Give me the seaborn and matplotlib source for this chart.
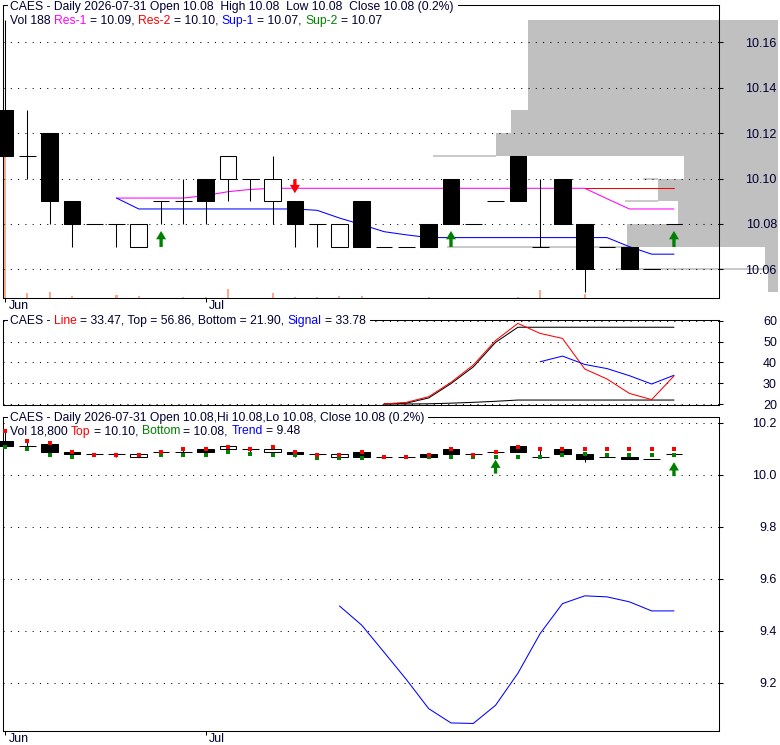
import numpy as np
import matplotlib
matplotlib.use("Agg")
import matplotlib.pyplot as plt
import matplotlib.transforms as mtransforms
from matplotlib.patches import Rectangle
import seaborn as sns

# ---------------- data ----------------
opens = [10.13, 10.11, 10.12, 10.09, 10.08, 10.08, 10.07, 10.09, 10.09, 10.10,
         10.10, 10.10, 10.09, 10.09, 10.08, 10.07, 10.09, 10.07, 10.07, 10.08,
         10.10, 10.08, 10.09, 10.11, 10.07, 10.10, 10.08, 10.07, 10.07, 10.06, 10.08]
highs = [10.17, 10.13, 10.12, 10.09, 10.08, 10.08, 10.08, 10.09, 10.10, 10.10,
         10.11, 10.10, 10.11, 10.09, 10.08, 10.08, 10.09, 10.07, 10.07, 10.08,
         10.10, 10.08, 10.09, 10.11, 10.10, 10.10, 10.08, 10.07, 10.07, 10.06, 10.08]
lows = [10.11, 10.10, 10.08, 10.07, 10.08, 10.07, 10.07, 10.08, 10.08, 10.08,
        10.09, 10.09, 10.08, 10.07, 10.07, 10.07, 10.07, 10.07, 10.07, 10.07,
        10.08, 10.08, 10.09, 10.09, 10.07, 10.08, 10.05, 10.07, 10.06, 10.06, 10.08]
closes = [10.11, 10.11, 10.09, 10.08, 10.08, 10.08, 10.08, 10.09, 10.09, 10.09,
          10.11, 10.10, 10.10, 10.08, 10.08, 10.08, 10.07, 10.07, 10.07, 10.07,
          10.08, 10.08, 10.09, 10.09, 10.07, 10.08, 10.06, 10.07, 10.06, 10.06, 10.08]
# volume in hundreds of shares
volume = [70500, 2500, 3000, 1000, 150, 1500, 1000, 200, 500, 500,
          4500, 200, 2500, 500, 500, 1000, 1000, 150, 200, 750,
          250, 150, 200, 300, 4000, 200, 2000, 150, 200, 150, 188]

month_idx = [0, 9]
month_lbl = ["Jun", "Jul"]

# support / resistance lines (top panel)
res1_start = 5
res1 = [10.0914, 10.0914, 10.0914, 10.0914, 10.0925, 10.0942, 10.0952, 10.0957,
        10.0957, 10.0957, 10.0957, 10.0957, 10.0957, 10.0957, 10.0957, 10.0957,
        10.0957, 10.0957, 10.0957, 10.0957, 10.0957, 10.0957, 10.0911, 10.0866,
        10.0866, 10.0866]
sup1_start = 5
sup1 = [10.0914, 10.0866, 10.0866, 10.0866, 10.0866, 10.0866, 10.0866, 10.0866,
        10.0866, 10.0860, 10.0826, 10.0797, 10.0766, 10.0752, 10.0740, 10.0740,
        10.0740, 10.0740, 10.0740, 10.0740, 10.0740, 10.0740, 10.0740, 10.0700,
        10.0667, 10.0667]
res2_start = 26
res2 = [10.0957, 10.0957, 10.0957, 10.0957, 10.0957]

# price-volume shading on the right (grey from band_end to the right edge)
band_lo = [10.16, 10.15, 10.14, 10.13, 10.12, 10.11, 10.10, 10.09, 10.08, 10.07, 10.06, 10.05]
band_end = [23.45, 23.45, 23.45, 23.45, 22.7, 22.0, 30.45, 29.3, 30.2, 27.9, 34.1, 34.2]
band_right = 34.66
shelf_y = [10.11, 10.10, 10.09, 10.07, 10.06]
shelf_x0 = [19.2, 28.6, 27.8, 19.8, 27.4]
shelf_x1 = [22.0, 29.3, 29.3, 27.9, 34.2]

up_top = [7, 20, 30]
down_top = [13]
up_bottom = [22, 30]

# oscillator (middle panel)
osc_start = 17
osc_line = [20.0, 20.8, 23.5, 30.4, 38.7, 50.5, 58.7, 53.9, 51.5, 36.8, 32.0, 25.1, 22.1, 33.47]
osc_top = [20.0, 20.4, 22.9, 29.8, 37.8, 49.6, 56.86, 56.86, 56.86, 56.86, 56.86, 56.86, 56.86, 56.86]
osc_bottom = [20.0, 20.0, 20.1, 20.4, 20.8, 21.3, 21.9, 21.9, 21.9, 21.9, 21.9, 21.9, 21.9, 21.9]
sig_start = 24
osc_signal = [40.3, 43.0, 39.0, 37.0, 33.6, 29.6, 33.78]

# bottom panel markers and trend
mark_top = [10.168, 10.131, 10.122, 10.088, 10.076, 10.076, 10.078, 10.088, 10.100, 10.100,
            10.109, 10.100, 10.109, 10.088, 10.076, 10.078, 10.088, 10.068, 10.068, 10.078,
            10.101, 10.076, 10.088, 10.109, 10.100, 10.100, 10.100, 10.100, 10.100, 10.100, 10.100]
mark_bottom = [10.109, 10.100, 10.076, 10.068, 10.076, 10.076, 10.076, 10.076, 10.076, 10.076,
               10.088, 10.080, 10.076, 10.076, 10.065, 10.065, 10.065, 10.068, 10.068, 10.068,
               10.068, 10.068, 10.068, 10.068, 10.068, 10.076, 10.080, 10.077, 10.077, 10.077, 10.077]
trend_start = 15
trend = [9.496, 9.422, 9.318, 9.213, 9.101, 9.046, 9.044, 9.114, 9.237, 9.39,
         9.505, 9.535, 9.531, 9.512, 9.477, 9.477]

# ---------------- style ----------------
sns.set_theme(style="white")
plt.rcParams["font.family"] = ["Liberation Sans", "DejaVu Sans"]
plt.rcParams["lines.scale_dashes"] = False

TXT = "#000033"
FS = 8.7
LW = 0.75
DPI = 100
W, H = 780, 745

fig = plt.figure(figsize=(W / DPI, H / DPI), dpi=DPI)
fig.patch.set_facecolor("white")
renderer = fig.canvas.get_renderer()

def px_axes(left, top, right, bottom):
    ax = fig.add_axes([left / W, 1 - bottom / H, (right - left) / W, (bottom - top) / H])
    ax.h_px = bottom - top
    return ax

ax_top = px_axes(3, 5, 719, 298)
ax_mid = px_axes(3, 320, 719, 405)
ax_bot = px_axes(3, 417, 719, 731)

x = np.arange(len(opens))
XLIM = (-0.09, 32.02)


def text_width(s):
    if not s:
        return 0.0
    t = fig.text(0, 0, s + "|", fontsize=FS)
    u = fig.text(0, 0, "|", fontsize=FS)
    w = t.get_window_extent(renderer).width - u.get_window_extent(renderer).width
    t.remove()
    u.remove()
    return w


def header(ax, dy, parts, bg=False):
    full = "".join(p for p, _ in parts)
    x0 = 7 / 716
    base = ax.transAxes + mtransforms.ScaledTranslation(0, -dy / DPI, fig.dpi_scale_trans)
    if bg:
        wfull = text_width(full)
        ax.add_patch(Rectangle((x0 - 2 / 716, 1 - (dy + 7) / ax.h_px), (wfull + 6) / 716,
                               14 / ax.h_px, transform=ax.transAxes, facecolor="white",
                               edgecolor="none", zorder=6, clip_on=False))
    pos = 0
    for seg, col in parts:
        lead = len(seg) - len(seg.lstrip(" "))
        dx = text_width(full[:pos + lead])
        tr = base + mtransforms.ScaledTranslation(dx / DPI, 0, fig.dpi_scale_trans)
        ax.text(x0, 1, seg.strip(" "), transform=tr, color=col, fontsize=FS,
                va="center", ha="left", zorder=7, clip_on=False)
        pos += len(seg)


def style_axes(ax, yticks, fmt, ylim, dates=True):
    ax.set_xlim(*XLIM)
    ax.set_ylim(*ylim)
    for s in ax.spines.values():
        s.set_color("black")
        s.set_linewidth(LW)
        s.set_visible(True)
    ax.set_axisbelow("line")
    ax.yaxis.tick_right()
    ax.set_yticks(yticks, [fmt.format(v) for v in yticks])
    ax.grid(axis="y", color="black", lw=LW, linestyle=(0, (0.75, 4.5)))
    ax.grid(axis="x", visible=False)
    ax.tick_params(axis="y", left=False, right=True, labelleft=False, labelright=True,
                   direction="out", length=3, width=LW, pad=38.7, labelsize=9, labelcolor=TXT,
                   color="black")
    plt.setp(ax.get_yticklabels(), ha="right")
    if dates:
        ax.set_xticks(month_idx, month_lbl)
        ax.tick_params(axis="x", bottom=True, top=False, direction="out", length=3, width=LW,
                       pad=-1.6, labelsize=9, labelcolor=TXT, color="black")
        shift = mtransforms.ScaledTranslation(3.5 / DPI, 0, fig.dpi_scale_trans)
        for lab in ax.get_xticklabels():
            lab.set_ha("left")
            lab.set_transform(lab.get_transform() + shift)
    else:
        ax.set_xticks([])
    ax.set_xlabel("")
    ax.set_ylabel("")


def candles(ax):
    o, h, l, c = map(np.asarray, (opens, highs, lows, closes))
    ax.vlines(x, l, h, color="black", lw=LW, zorder=3, clip_on=False)
    lo, hi = np.minimum(o, c), np.maximum(o, c)
    flat = np.isclose(o, c)
    down = (c < o) & ~flat
    up = (c > o) & ~flat
    ax.bar(x[down], (hi - lo)[down], bottom=lo[down], width=0.75, color="black",
           edgecolor="black", lw=LW, zorder=4, clip_on=False)
    ax.bar(x[up], (hi - lo)[up], bottom=lo[up], width=0.75, color="white",
           edgecolor="black", lw=LW, zorder=4, clip_on=False)
    ax.hlines(o[flat], x[flat] - 0.375, x[flat] + 0.375, color="black", lw=LW, zorder=4)


def arrow(ax, xi, y, up, color, gap_px, length_px=16):
    sign = -1 if up else 1
    ax.annotate("", xy=(xi, y), xycoords="data",
                xytext=(0, sign * (gap_px + length_px) * 72 / DPI), textcoords="offset points",
                arrowprops=dict(arrowstyle="simple,head_length=0.5,head_width=0.6,tail_width=0.2",
                                color=color, lw=0, shrinkA=0, shrinkB=gap_px * 72 / DPI),
                annotation_clip=False, zorder=5)


# ---------------- top panel: price + volume ----------------
ax_vol = ax_top.twinx()
ax_top.set_zorder(ax_vol.get_zorder() + 1)
ax_top.patch.set_visible(False)
ax_vol.set_facecolor("white")
ax_vol.bar(x, volume, width=0.09, color="#FBAA8C", lw=0)
ax_vol.set_ylim(0, volume[0] * 293 / 141)
ax_vol.set_yticks([])
ax_vol.tick_params(right=False, labelright=False)
for s in ax_vol.spines.values():
    s.set_visible(False)

for lo_v, end in zip(band_lo, band_end):
    ax_top.add_patch(Rectangle((end, lo_v), band_right - end, 0.01, facecolor="#C0C0C0",
                               edgecolor="none", zorder=0.5, clip_on=False))
ax_top.hlines(shelf_y, shelf_x0, shelf_x1, color="#C0C0C0", lw=1.2, zorder=0.8, clip_on=False)

sns.lineplot(x=list(range(res1_start, res1_start + len(res1))), y=res1, ax=ax_top,
             color="#FF00FF", lw=LW, zorder=2)
sns.lineplot(x=list(range(sup1_start, sup1_start + len(sup1))), y=sup1, ax=ax_top,
             color="#0000FF", lw=LW, zorder=2)
sns.lineplot(x=list(range(res2_start, res2_start + len(res2))), y=res2, ax=ax_top,
             color="#FF0000", lw=LW, zorder=2)
candles(ax_top)
for i in up_top:
    arrow(ax_top, i, lows[i], True, "#008000", 7)
for i in down_top:
    arrow(ax_top, i, highs[i], False, "#FF0000", 8, 14)

style_axes(ax_top, [10.06, 10.08, 10.10, 10.12, 10.14, 10.16], "{:.2f}", (10.0474, 10.1764))
header(ax_top, 1.7, [("CAES - Daily 2026-07-31 Open 10.08  High 10.08  Low 10.08  Close 10.08 (0.2%)", TXT)], bg=True)
header(ax_top, 15.5, [("Vol 188 ", TXT), ("Res-1", "#FF00FF"), (" = 10.09, ", TXT),
                      ("Res-2", "#FF0000"), (" = 10.10, ", TXT), ("Sup-1", "#0000FF"),
                      (" = 10.07, ", TXT), ("Sup-2", "#008000"), (" = 10.07", TXT)])

# ---------------- middle panel: oscillator ----------------
osc_x = list(range(osc_start, osc_start + len(osc_line)))
sns.lineplot(x=osc_x, y=osc_top, ax=ax_mid, color="black", lw=LW, zorder=2)
sns.lineplot(x=osc_x, y=osc_bottom, ax=ax_mid, color="black", lw=LW, zorder=2)
sns.lineplot(x=osc_x, y=osc_line, ax=ax_mid, color="#FF0000", lw=LW, zorder=3)
sns.lineplot(x=list(range(sig_start, sig_start + len(osc_signal))), y=osc_signal, ax=ax_mid,
             color="#0000FF", lw=LW, zorder=3)
style_axes(ax_mid, [20, 30, 40, 50, 60], "{:.0f}", (19.52, 60.34), dates=False)
header(ax_mid, 0.5, [("CAES - ", TXT), ("Line", "#FF0000"),
                     (" = 33.47, Top = 56.86, Bottom = 21.90, ", TXT),
                     ("Signal", "#0000FF"), (" = 33.78", TXT)], bg=True)

# ---------------- bottom panel: price + trend ----------------
sns.lineplot(x=list(range(trend_start, trend_start + len(trend))), y=trend, ax=ax_bot,
             color="#0000FF", lw=LW, zorder=2)
candles(ax_bot)
sns.scatterplot(x=x, y=mark_bottom, ax=ax_bot, marker="s", s=5, color="#008000",
                linewidth=0, zorder=5, clip_on=False)
sns.scatterplot(x=x, y=mark_top, ax=ax_bot, marker="s", s=5, color="#FF0000",
                linewidth=0, zorder=5, clip_on=False)
for i in up_bottom:
    arrow(ax_bot, i, lows[i], True, "#008000", 8, 14)
style_axes(ax_bot, [9.2, 9.4, 9.6, 9.8, 10.0, 10.2], "{:.1f}", (9.015, 10.223))
header(ax_bot, 1.0, [("CAES - Daily 2026-07-31 Open 10.08,Hi 10.08,Lo 10.08, Close 10.08 (0.2%)", TXT)], bg=True)
header(ax_bot, 14.5, [("Vol 18,800 ", TXT), ("Top", "#FF0000"), (" = 10.10, ", TXT),
                      ("Bottom", "#008000"), (" = 10.08, ", TXT), ("Trend", "#0000FF"),
                      (" = 9.48", TXT)])

fig.savefig("out.png", dpi=DPI, facecolor="white")
